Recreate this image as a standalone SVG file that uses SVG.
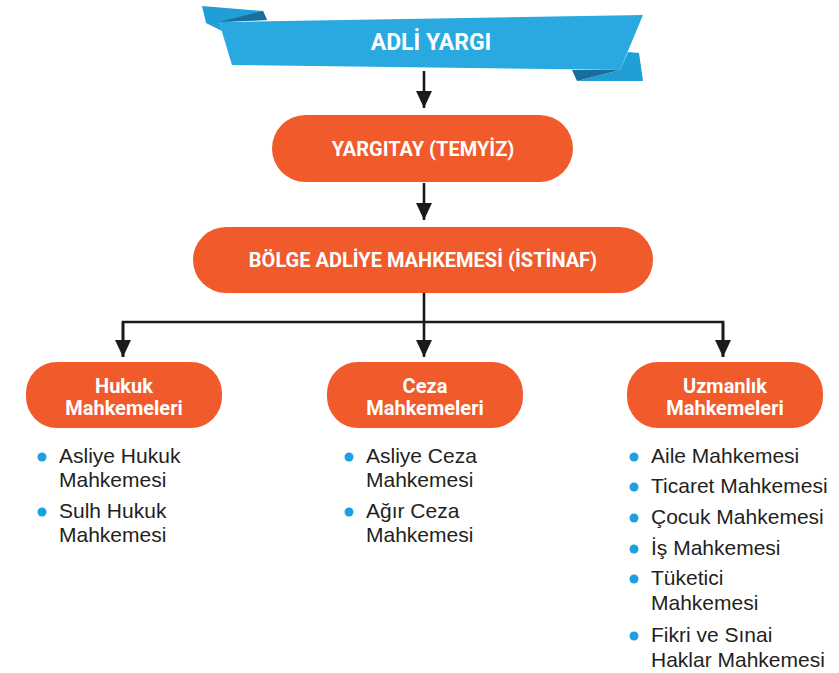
<svg xmlns="http://www.w3.org/2000/svg" width="839" height="673" viewBox="0 0 839 673">
<defs>
<style>
.box{fill:#F15A2B}
.bt{font-family:Roboto,"Liberation Sans",sans-serif;font-weight:bold;fill:#fff;text-anchor:middle}
.t1{font-size:20px}
.t2{font-size:20px}
.li{font-family:"Liberation Sans",Arial,sans-serif;font-size:21px;fill:#231F20}
.dot{fill:#1BA1E2}
.ln{stroke:#1a1a1a;stroke-width:2.6;fill:none}
</style>
<marker id="ah" markerUnits="userSpaceOnUse" markerWidth="18" markerHeight="16" refX="17" refY="8" orient="auto" viewBox="0 0 18 16">
<path d="M0,0 L17,8 L0,16 Z" fill="#1a1a1a"/>
</marker>
</defs>
<rect width="839" height="673" fill="#fff"/>

<g id="banner">
<polygon points="202,6 263,11 267,20 219,22 222,31 206,23" fill="#1F9FD6"/>
<polygon points="219,22 263,11 267,20" fill="#186E9C"/>
<polygon points="620,70 628,52 639,53 643,81 577,81" fill="#1F9FD6"/>
<polygon points="572,70 620,70 577,81" fill="#186E9C"/>
<polygon points="219,22 643,15 620,70 232,65" fill="#29A9E0"/>
<text x="431" y="50" class="bt" style="font-size:23px">ADLİ YARGI</text>
</g>

<g id="connectors">
<line x1="424" y1="71" x2="424" y2="108" class="ln" marker-end="url(#ah)"/>
<line x1="424" y1="183" x2="424" y2="220" class="ln" marker-end="url(#ah)"/>
<polyline points="424,293 424,322" class="ln"/>
<polyline points="123,357 123,322 723,322 723,357" class="ln"/>
<line x1="123" y1="322" x2="123" y2="357" class="ln" marker-end="url(#ah)"/>
<line x1="424" y1="322" x2="424" y2="357" class="ln" marker-end="url(#ah)"/>
<line x1="723" y1="322" x2="723" y2="357" class="ln" marker-end="url(#ah)"/>
</g>

<g id="yargitay">
<rect x="272" y="115" width="301" height="67" rx="33.5" class="box"/>
<text x="423" y="156" class="bt t1">YARGITAY (TEMYİZ)</text>
</g>

<g id="bolge">
<rect x="193" y="227" width="460" height="66" rx="33" class="box"/>
<text x="423" y="267" class="bt t1">BÖLGE ADLİYE MAHKEMESİ (İSTİNAF)</text>
</g>

<g id="hukuk">
<rect x="26" y="362" width="196" height="66" rx="31" class="box"/>
<text x="124" y="393" class="bt t2">Hukuk</text>
<text x="124" y="415" class="bt t2">Mahkemeleri</text>
</g>

<g id="ceza">
<rect x="327" y="362" width="196" height="66" rx="31" class="box"/>
<text x="425" y="393" class="bt t2">Ceza</text>
<text x="425" y="415" class="bt t2">Mahkemeleri</text>
</g>

<g id="uzmanlik">
<rect x="627" y="362" width="196" height="66" rx="31" class="box"/>
<text x="725" y="393" class="bt t2">Uzmanlık</text>
<text x="725" y="415" class="bt t2">Mahkemeleri</text>
</g>

<g id="hukuk-list">
<circle cx="42" cy="457" r="4.5" class="dot"/>
<text x="59" y="463" class="li">Asliye Hukuk</text>
<text x="59" y="487" class="li">Mahkemesi</text>
<circle cx="42" cy="512" r="4.5" class="dot"/>
<text x="59" y="518" class="li">Sulh Hukuk</text>
<text x="59" y="542" class="li">Mahkemesi</text>
</g>

<g id="ceza-list">
<circle cx="349" cy="457" r="4.5" class="dot"/>
<text x="366" y="463" class="li">Asliye Ceza</text>
<text x="366" y="487" class="li">Mahkemesi</text>
<circle cx="349" cy="512" r="4.5" class="dot"/>
<text x="366" y="518" class="li">Ağır Ceza</text>
<text x="366" y="542" class="li">Mahkemesi</text>
</g>

<g id="uzmanlik-list">
<circle cx="634" cy="457" r="4.5" class="dot"/>
<text x="651" y="463" class="li">Aile Mahkemesi</text>
<circle cx="634" cy="487" r="4.5" class="dot"/>
<text x="651" y="493" class="li">Ticaret Mahkemesi</text>
<circle cx="634" cy="518" r="4.5" class="dot"/>
<text x="651" y="524" class="li">Çocuk Mahkemesi</text>
<circle cx="634" cy="549" r="4.5" class="dot"/>
<text x="651" y="555" class="li">İş Mahkemesi</text>
<circle cx="634" cy="579" r="4.5" class="dot"/>
<text x="651" y="585" class="li">Tüketici</text>
<text x="651" y="610" class="li">Mahkemesi</text>
<circle cx="634" cy="636" r="4.5" class="dot"/>
<text x="651" y="642" class="li">Fikri ve Sınai</text>
<text x="651" y="667" class="li">Haklar Mahkemesi</text>
</g>
</svg>
